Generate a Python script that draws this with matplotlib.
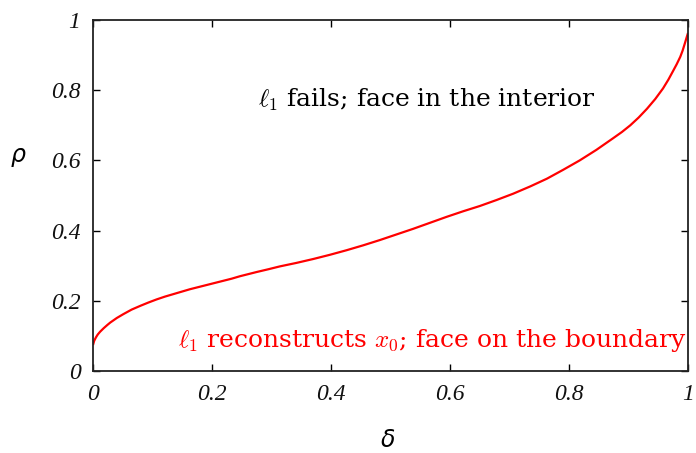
import matplotlib
matplotlib.use("Agg")
import matplotlib.pyplot as plt

# Phase transition curve rho(delta) for l1 recovery
delta = [0.0, 0.002, 0.005, 0.008, 0.012, 0.018, 0.024, 0.029, 0.040, 0.051,
         0.065, 0.080, 0.093, 0.107, 0.121, 0.135, 0.149, 0.163, 0.177,
         0.191, 0.205, 0.219, 0.233, 0.247, 0.261, 0.275, 0.295, 0.314,
         0.342, 0.370, 0.398, 0.426, 0.454, 0.482, 0.510, 0.538, 0.566,
         0.594, 0.622, 0.650, 0.678, 0.706, 0.735, 0.763, 0.790, 0.818,
         0.846, 0.874, 0.889, 0.903, 0.917, 0.931, 0.945, 0.958, 0.967,
         0.975, 0.981, 0.987, 0.991, 0.995, 0.998, 1.0]
rho = [0.074, 0.086, 0.096, 0.104, 0.112, 0.122, 0.131, 0.138, 0.151, 0.162,
       0.175, 0.186, 0.195, 0.204, 0.212, 0.219, 0.226, 0.233, 0.239,
       0.245, 0.251, 0.257, 0.263, 0.270, 0.276, 0.282, 0.290, 0.298,
       0.308, 0.319, 0.331, 0.344, 0.358, 0.373, 0.389, 0.405, 0.422,
       0.439, 0.455, 0.470, 0.487, 0.505, 0.526, 0.548, 0.573, 0.600,
       0.630, 0.663, 0.681, 0.700, 0.722, 0.747, 0.775, 0.805, 0.830,
       0.855, 0.874, 0.895, 0.913, 0.935, 0.952, 0.963]

xticks = [0, 0.2, 0.4, 0.6, 0.8, 1]
xticklabels = ["0", "0.2", "0.4", "0.6", "0.8", "1"]
yticks = [0, 0.2, 0.4, 0.6, 0.8, 1]
yticklabels = ["0", "0.2", "0.4", "0.6", "0.8", "1"]

plt.rcParams["mathtext.fontset"] = "cm"

fig = plt.figure(figsize=(6.96, 4.53), dpi=100)
ax = fig.add_axes([93 / 696, 1 - 371 / 453, 595 / 696, 351 / 453])

ax.plot(delta, rho, color="#ff0000", lw=1.6, solid_capstyle="butt",
        solid_joinstyle="round")

ax.set_xlim(0, 1)
ax.set_ylim(0, 1)
ax.set_xticks(xticks)
ax.set_yticks(yticks)
tick_font = dict(family="Liberation Serif", style="italic", size=17)
ax.set_xticklabels(xticklabels, fontdict=tick_font)
ax.set_yticklabels(yticklabels, fontdict=tick_font)
ax.tick_params(direction="in", length=5, width=1, top=True, right=True,
               color="black", labelcolor="#111111")
ax.tick_params(axis="x", pad=9)
ax.tick_params(axis="y", pad=9)
for s in ax.spines.values():
    s.set_linewidth(1.3)
    s.set_color("#222222")

fig.text(18 / 696, 1 - 157 / 453, r"$\rho$", fontsize=17, ha="center",
         va="center", math_fontfamily="dejavusans")
fig.text(388 / 696, 1 - 440 / 453, r"$\delta$", fontsize=17, ha="center",
         va="center", math_fontfamily="dejavusans")

ax.text(0.277, 0.772, r"$\ell_1$ fails; face in the interior",
        family="DejaVu Serif", fontsize=18, color="black",
        ha="left", va="center")
ax.text(0.998, 0.088, r"$\ell_1$ reconstructs $x_0$; face on the boundary",
        family="DejaVu Serif", fontsize=18, color="#ff0000",
        ha="right", va="center")

fig.savefig("out.png", dpi=100)
